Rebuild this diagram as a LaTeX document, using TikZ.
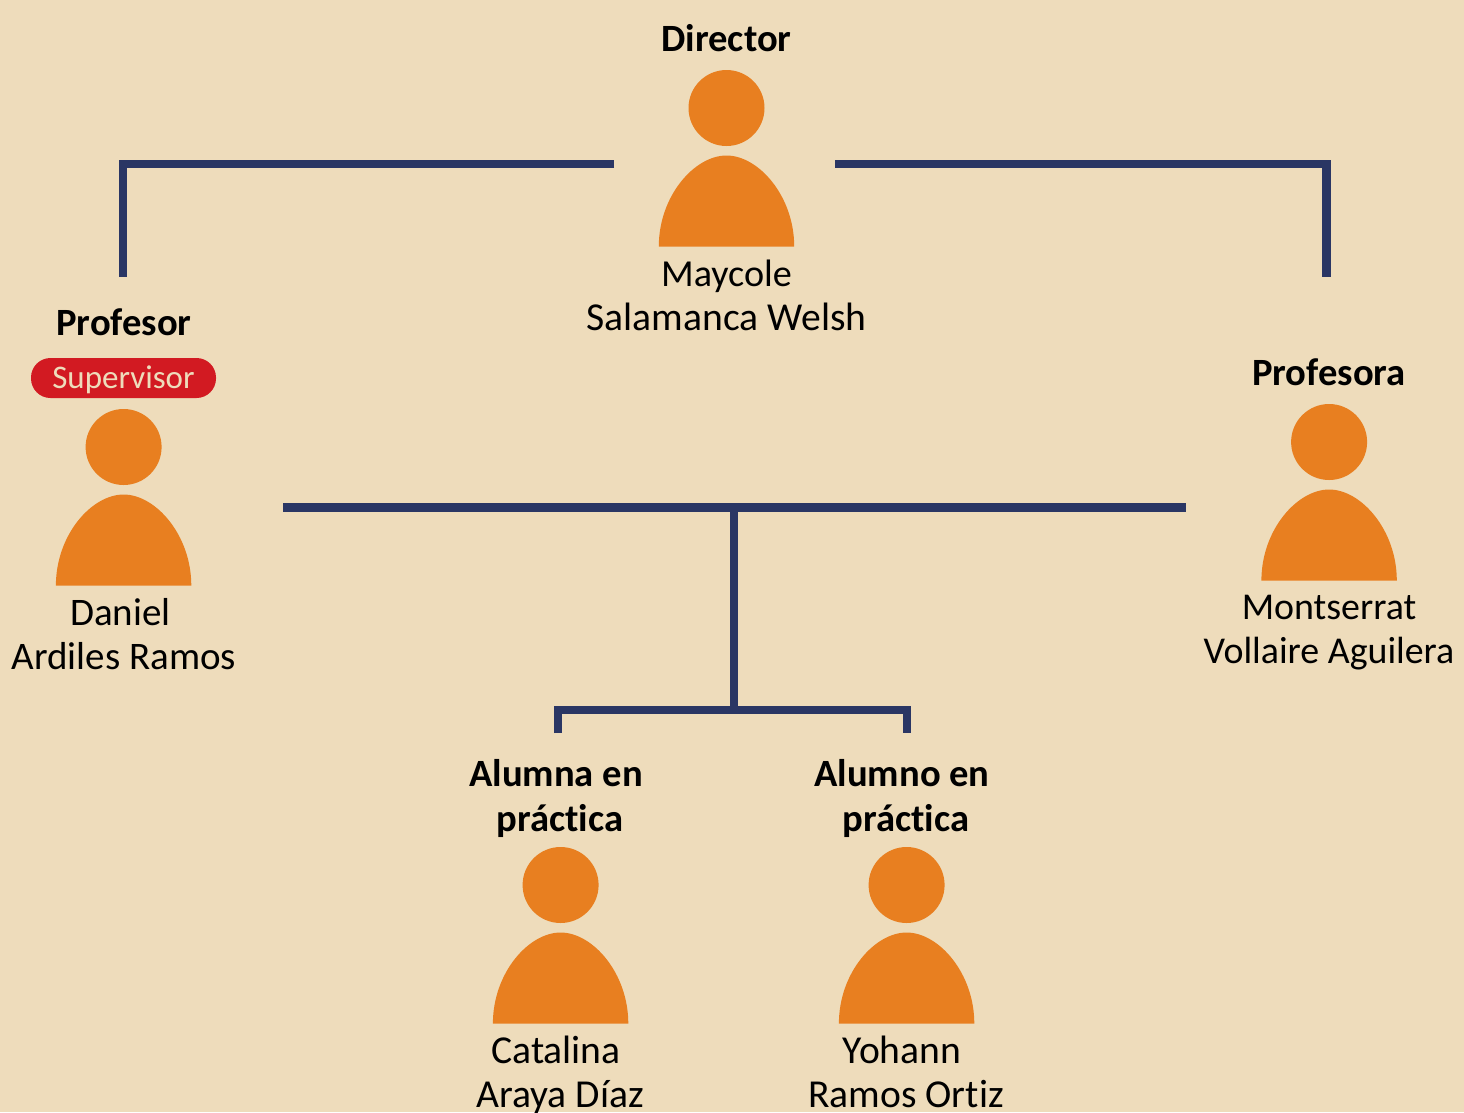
\documentclass[tikz,border=0pt]{standalone}
\usepackage{fontspec}
\setmainfont[RawFeature={-liga}]{Carlito}
\definecolor{bgc}{HTML}{EEDCBB}
\definecolor{orc}{HTML}{E87F20}
\definecolor{nvc}{HTML}{2A3664}
\definecolor{rdc}{HTML}{D21A22}
\tikzset{
  title/.style={font=\fontsize{38.6}{45}\selectfont\bfseries,text=black,align=center,inner sep=0pt,anchor=center},
  pname/.style={font=\fontsize{39.6}{44}\selectfont,text=black,align=center,inner sep=0pt,anchor=center},
  badge/.style={fill=rdc,rounded corners=19.5pt,minimum width=185pt,minimum height=40pt,inner sep=0pt},
  badgetext/.style={text=bgc,font=\fontsize{33}{38}\selectfont,inner sep=0pt},
  link/.style={draw=nvc,line width=8.2pt},
  head/.style={circle,fill=orc,minimum size=76pt,inner sep=0pt}
}
\newcommand{\person}[3]{%
  \node[head] (#3h) at (#1,#2) {};
  \fill[orc] (#1-67.7,#2+138.5) .. controls (#1-67.7,#2+88) and (#1-32,#2+47.5) .. (#1,#2+47.5)
     .. controls (#1+32,#2+47.5) and (#1+67.7,#2+88) .. (#1+67.7,#2+138.5) -- cycle;
}
\begin{document}
\begin{tikzpicture}[x=1pt,y=-1pt]
\useasboundingbox (0,0) rectangle (1464,1112);
\fill[bgc] (0,0) rectangle (1464,1112);
\person{726.5}{108}{dir}
\person{123.6}{447}{dan}
\person{1329.1}{442}{mon}
\person{560.6}{885}{cat}
\person{906.6}{885}{yoh}
\node[title] (tdir) at (726.5,38) {Director};
\node[pname] (ndir) at (726.5,295) {{\fontsize{38.2}{44}\selectfont Maycole}\\Salamanca Welsh};
\node[title] (tdan) at (124,322) {Profesor};
\node[badge] (sup) at (123.5,378) {};
\node[badgetext] (suptext) at (123.5,380) {Supervisor};
\node[pname,font=\fontsize{39}{44}\selectfont] (ndan) at (124,634) {Daniel\hspace*{7pt}\\Ardiles Ramos};
\node[title] (tmon) at (1329,372) {Profesora};
\node[pname,font=\fontsize{37.9}{44}\selectfont] (nmon) at (1329,633) {Montserrat\\Vollaire Aguilera};
\node[title] (tcat) at (560,798) {Alumna en\hspace*{8pt}\\práctica};
\node[pname] (ncat) at (560,1075) {Catalina\hspace*{8pt}\\Araya Díaz};
\node[title] (tyoh) at (906,798) {Alumno en\hspace*{8pt}\\práctica};
\node[pname] (nyoh) at (906,1072) {Yohann\hspace*{8pt}\\Ramos Ortiz};
\coordinate (a1) at (614,164); \coordinate (a2) at (123,164); \coordinate (a3) at (123,277);
\coordinate (b1) at (835,164); \coordinate (b2) at (1326.5,164); \coordinate (b3) at (1326.5,277);
\coordinate (c1) at (283,507.5); \coordinate (c2) at (1186,507.5);
\coordinate (d1) at (734,507.5); \coordinate (d2) at (734,710);
\coordinate (e1) at (558,733); \coordinate (e2) at (558,710); \coordinate (e3) at (907,710); \coordinate (e4) at (907,733);
\draw[link] (a1) -- (a2) -- (a3);
\draw[link] (b1) -- (b2) -- (b3);
\draw[link] (c1) -- (c2);
\draw[link] (d1) -- (d2);
\draw[link] (e1) -- (e2) -- (e3) -- (e4);
\end{tikzpicture}
\end{document}
